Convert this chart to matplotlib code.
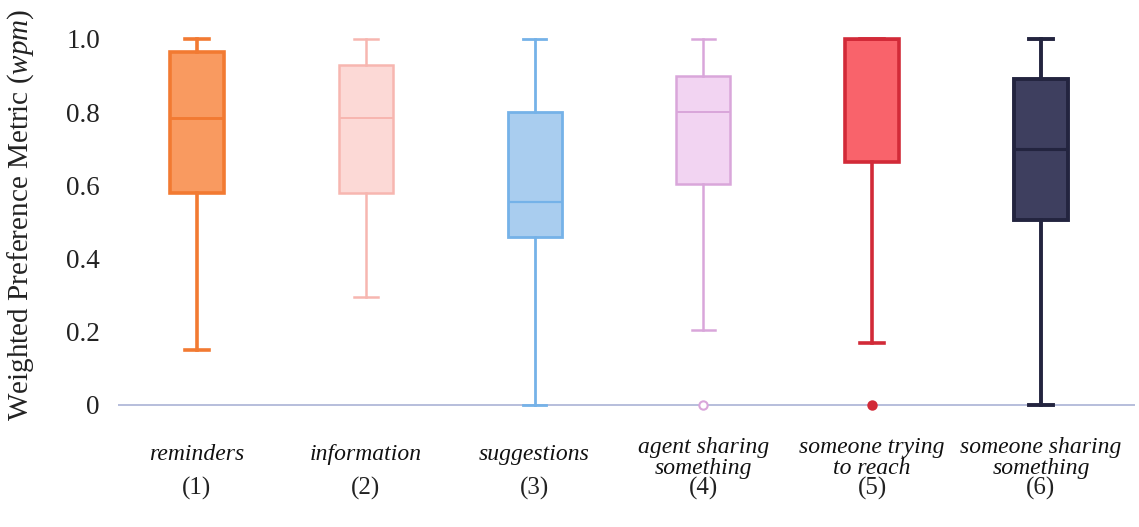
import matplotlib
matplotlib.use("Agg")
import matplotlib.pyplot as plt

plt.rcParams["mathtext.fontset"] = "custom"
plt.rcParams["mathtext.it"] = "Liberation Serif:italic"
plt.rcParams["mathtext.rm"] = "Liberation Serif"

categories = ["reminders", "information", "suggestions",
              "agent sharing\nsomething", "someone trying\nto reach", "someone sharing\nsomething"]
numbers = ["(1)", "(2)", "(3)", "(4)", "(5)", "(6)"]
whislo = [0.15, 0.295, 0.0, 0.205, 0.17, 0.0]
q1 = [0.58, 0.58, 0.46, 0.605, 0.665, 0.505]
med = [0.785, 0.785, 0.555, 0.80, 1.0, 0.70]
q3 = [0.965, 0.93, 0.80, 0.90, 1.0, 0.89]
whishi = [1.0, 1.0, 1.0, 1.0, 1.0, 1.0]
fliers = [[], [], [], [0.0], [0.0], []]

fills = ["#f99a60", "#fcd9d6", "#a9cdef", "#f2d4f2", "#f9636b", "#3e3f5f"]
edges = ["#f27a32", "#f7b6b0", "#75b2e8", "#d9a6da", "#d22a38", "#23243f"]
lws = [2.6, 1.8, 2.0, 1.8, 2.6, 2.8]
flier_filled = [False, False, False, False, True, False]

serif = ["Liberation Serif", "DejaVu Serif"]

fig = plt.figure(figsize=(11.39, 5.27), dpi=100)
ax = fig.add_axes([0.1036, 0.2211, 0.8929, 0.7223])

positions = list(range(1, 7))
for i in range(6):
    st = dict(whislo=whislo[i], q1=q1[i], med=med[i], q3=q3[i], whishi=whishi[i], fliers=fliers[i])
    mfc = edges[i] if flier_filled[i] else "white"
    ax.bxp([st], positions=[positions[i]], widths=0.32, patch_artist=True, showfliers=True,
           capwidths=0.14,
           boxprops=dict(facecolor=fills[i], edgecolor=edges[i], linewidth=lws[i]),
           medianprops=dict(color=edges[i], linewidth=lws[i] * 0.8),
           whiskerprops=dict(color=edges[i], linewidth=lws[i]),
           capprops=dict(color=edges[i], linewidth=lws[i]),
           flierprops=dict(marker="o", markersize=6, markerfacecolor=mfc,
                           markeredgecolor=edges[i], markeredgewidth=1.5),
           zorder=3)

ax.axhline(0, color="#aab3d6", linewidth=1.2, zorder=1)

ax.set_xlim(0.532, 6.557)
ax.set_ylim(-0.015, 1.025)
for s in ax.spines.values():
    s.set_visible(False)

ax.set_yticks([0, 0.2, 0.4, 0.6, 0.8, 1.0])
ax.set_yticklabels(["0", "0.2", "0.4", "0.6", "0.8", "1.0"], fontfamily=serif, fontsize=19.5, color="#222222")
ax.tick_params(axis="y", length=0, pad=13)
ax.set_xticks(positions)
ax.set_xticklabels([])
ax.tick_params(axis="x", length=0)

tr = ax.get_xaxis_transform()
for i in range(6):
    ax.text(positions[i], -0.115 if "\n" not in categories[i] else -0.125, categories[i],
            transform=tr, ha="center", va="center",
            fontfamily=serif, fontstyle="italic", fontsize=17, color="#111111", linespacing=0.98)
    ax.text(positions[i], -0.205, numbers[i], transform=tr, ha="center", va="center",
            fontfamily=serif, fontsize=18, color="#222222")

ax.set_ylabel("Weighted Preference Metric ($\\mathit{wpm}$)", fontfamily=serif, fontsize=21,
              color="#222222")
ax.yaxis.set_label_coords(-0.081, 0.515)

fig.savefig("out.png", dpi=100)
